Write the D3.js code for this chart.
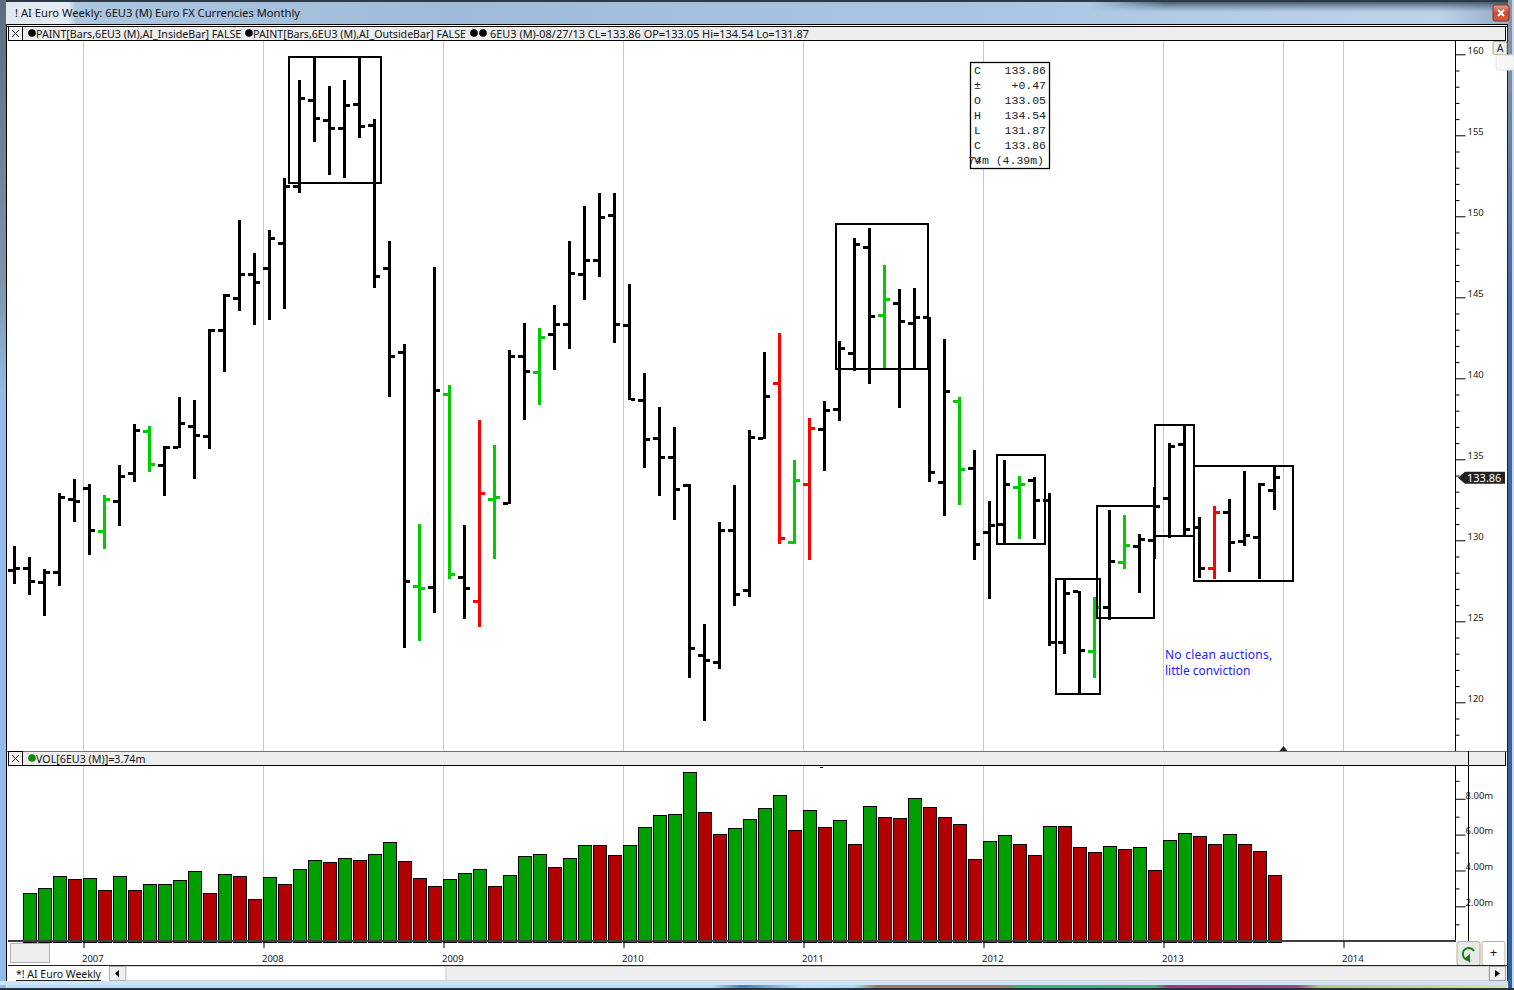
<!DOCTYPE html>
<html>
<head>
<meta charset="utf-8">
<title>AI Euro Weekly</title>
<script src="https://cdn.jsdelivr.net/npm/d3@7"></script>
<style>
html, body { margin: 0; padding: 0; background: #fff; overflow: hidden; }
svg { display: block; }
text { font-family: "Noto Sans", "Liberation Sans", sans-serif; fill: #1a1a1a; }
.mono { font-family: "Liberation Mono", monospace; font-size: 11.5px; }
</style>
</head>
<body>
<svg id="chart" width="1514" height="990"></svg>
<script>
// monthly bars, Aug 2006 to Aug 2013
var barHigh = [129.65,128.97,128.23,132.92,133.78,133.47,132.79,134.65,137.18,137.05,135.82,138.84,138.66,143.04,145.20,149.77,147.71,149.15,152.34,158.41,159.85,158.04,158.41,159.85,155.99,148.47,142.12,131.00,146.89,139.58,130.94,137.42,135.88,141.75,143.39,143.08,144.52,148.47,150.63,151.42,151.42,145.82,140.33,138.23,136.99,133.46,124.83,131.13,133.41,136.81,141.62,142.79,134.96,137.55,138.60,142.30,148.66,149.28,146.99,145.51,145.57,143.78,142.42,138.84,135.57,132.42,134.96,133.97,133.89,132.90,127.59,126.89,126.50,131.87,131.56,130.39,133.27,136.00,137.12,131.44,132.12,132.55,134.28,133.54,134.54];
var barLow = [127.30,126.62,125.33,127.18,131.13,129.09,129.46,130.88,133.60,134.21,132.73,135.70,133.78,135.63,140.39,144.15,143.29,143.60,144.28,151.45,154.60,152.57,152.38,154.85,145.59,138.86,123.37,123.78,125.53,127.61,125.14,124.65,128.84,132.24,137.44,138.35,140.51,141.81,144.83,146.25,142.18,138.66,134.46,132.73,131.25,121.50,118.84,122.05,125.94,126.50,136.23,129.77,129.77,128.78,134.28,137.36,140.45,139.65,140.51,138.16,140.51,133.60,131.50,132.18,128.78,126.37,129.79,130.08,130.08,123.47,122.98,120.51,121.50,125.08,128.23,126.75,128.84,130.14,130.26,127.67,127.61,128.04,129.65,127.61,131.87];
var barOpen = [128.15,128.27,127.41,128.02,132.53,133.21,130.55,132.41,134.13,136.73,134.63,135.74,137.04,136.42,142.96,144.94,146.42,146.79,148.33,151.87,157.12,155.94,155.43,156.91,155.62,146.79,141.62,127.16,127.10,139.01,127.71,126.23,132.53,132.28,141.37,140.37,142.71,143.33,146.42,147.28,150.08,143.27,138.64,136.29,135.12,133.41,122.90,122.47,130.62,126.91,136.29,139.65,129.85,133.47,136.87,138.08,141.54,148.08,143.89,144.63,143.39,143.78,133.58,138.58,134.44,130.49,130.99,133.27,133.70,132.47,123.70,126.85,123.15,125.86,128.64,129.63,130.00,132.59,135.92,130.76,128.27,131.73,129.94,130.20,133.05];
var barClose = [128.27,127.47,128.02,132.67,132.41,130.62,132.49,133.95,136.79,134.69,135.74,137.18,136.48,142.96,145.12,146.42,145.92,148.60,151.87,157.28,156.05,155.43,156.87,155.53,146.29,141.36,127.47,127.05,139.26,127.90,127.03,132.90,132.65,141.37,140.43,142.53,143.33,146.48,147.28,149.94,143.33,138.70,136.23,135.12,133.15,123.33,122.55,130.62,126.67,136.36,138.89,130.12,133.70,136.93,138.04,141.85,148.23,143.84,144.87,143.52,143.78,134.20,139.20,134.38,129.75,130.92,133.46,133.46,132.47,123.72,126.73,123.21,125.86,128.70,129.69,130.06,132.10,135.80,130.68,128.27,131.73,129.87,130.31,133.46,133.86];
// painted bars (inside / outside bar signal)
var greenBars = [6,9,27,29,32,35,52,58,63,67,72,74];
var redBars = [31,51,53,80];
// volume in millions, first month has no bar on screen
var volume = [null,2.73,3.01,3.68,3.51,3.56,2.89,3.68,2.89,3.23,3.23,3.45,3.95,2.73,3.79,3.68,2.39,3.62,3.23,4.07,4.57,4.46,4.68,4.57,4.90,5.57,4.51,3.56,3.12,3.51,3.84,4.07,3.12,3.73,4.79,4.90,4.18,4.68,5.40,5.40,4.85,5.40,6.41,7.08,7.13,9.48,7.24,6.02,6.35,6.85,7.47,8.19,6.24,7.36,6.41,6.80,5.46,7.58,6.97,6.91,8.03,7.52,6.97,6.58,4.62,5.63,5.96,5.46,4.85,6.46,6.46,5.29,5.01,5.35,5.18,5.29,4.01,5.68,6.07,5.91,5.46,6.02,5.46,5.07,3.73];
var volumeDown = [4,6,8,13,15,16,18,21,23,26,27,28,32,36,39,40,46,47,52,54,56,58,59,61,62,63,64,67,68,70,71,72,74,76,79,80,82,83,84];
// year labels and the month slot each one starts at
var years = [2007,2008,2009,2010,2011,2012,2013,2014];
var yearSlots = [4.6,16.6,28.6,40.6,52.6,64.6,76.6,88.6];
var lastBarSlot = 84.6;
var priceMajor = [120,125,130,135,140,145,150,155,160];
var volumeMajor = [2,4,6,8];
// rectangles drawn by hand on the chart: first slot, last slot, top price, bottom price
var boxSlots = [[18.28,24.45],[54.77,60.92],[65.5,68.72],[69.41,72.39],[72.15,75.99],[76.01,78.65],[78.63,85.23]];
var boxPrices = [[159.85,152.05],[149.54,140.58],[135.28,129.77],[127.63,120.51],[132.12,125.2],[137.14,130.28],[134.6,127.49]];
var noteLines = ["No clean auctions,", "little conviction"];
var dataLabels = ["C","\u00b1","O","H","L","C","V"];
var dataValues = ["133.86","+0.47","133.05","134.54","131.87","133.86","74m (4.39m)"];
var lastPrice = 133.86;

var svg = d3.select("#chart");
var defs = svg.append("defs");

function gradient(id, vertical, stops) {
    var g = defs.append("linearGradient").attr("id", id)
        .attr("x1", 0).attr("y1", 0)
        .attr("x2", vertical ? 0 : 1).attr("y2", vertical ? 1 : 0);
    stops.forEach(function (s) {
        g.append("stop").attr("offset", s[0]).attr("stop-color", s[1]).attr("stop-opacity", s.length > 2 ? s[2] : 1);
    });
}

function box(x, y, w, h, fill, stroke, sw, rx) {
    return svg.append("rect")
        .attr("x", x).attr("y", y).attr("width", w).attr("height", h)
        .attr("fill", fill)
        .attr("stroke", stroke || "none")
        .attr("stroke-width", sw || 0)
        .attr("rx", rx || 0);
}

function hline(x1, x2, y, color, sw) {
    return svg.append("line").attr("x1", x1).attr("x2", x2).attr("y1", y).attr("y2", y)
        .attr("stroke", color).attr("stroke-width", sw || 1).attr("shape-rendering", "crispEdges");
}

function vline(x, y1, y2, color, sw) {
    return svg.append("line").attr("x1", x).attr("x2", x).attr("y1", y1).attr("y2", y2)
        .attr("stroke", color).attr("stroke-width", sw || 1).attr("shape-rendering", "crispEdges");
}

function label(x, y, str, size, color, anchor) {
    return svg.append("text").attr("x", x).attr("y", y).text(str)
        .style("font-size", size + "px")
        .style("fill", color || "#1a1a1a")
        .attr("text-anchor", anchor || "start");
}

function closeBox(x, y) {
    box(x + 0.5, y + 0.5, 14, 14, "#f4f4f4", "#000", 1);
    svg.append("path").attr("d", "M" + (x + 4) + "," + (y + 4) + "L" + (x + 11) + "," + (y + 11) + "M" + (x + 11) + "," + (y + 4) + "L" + (x + 4) + "," + (y + 11))
        .attr("stroke", "#222").attr("fill", "none");
}

function dot(x, y, color) {
    svg.append("circle").attr("cx", x).attr("cy", y).attr("r", 3.8).attr("fill", color);
}

// window chrome
gradient("titleBase", false, [[0, "#dfe9f3"], [0.045, "#e3ecf5"], [0.05, "#adc6e0"], [0.3, "#9fbbd9"], [0.65, "#a9c5e2"], [0.95, "#bcd3ea"], [1, "#8fa9c4"]]);
gradient("titleDark", true, [[0, "#1f2c3a", 0.9], [0.75, "#4c6580", 0]]);
gradient("fadeRight", false, [[0, "#000"], [0.72, "#000"], [0.77, "#fff"], [1, "#fff"]]);
gradient("sideLeft", true, [[0, "#5d6d7e"], [0.28, "#7f93a8"], [0.4, "#8fbce8"], [1, "#8fbce8"]]);
gradient("sideRight", true, [[0, "#8b98a6"], [0.3, "#3e6aa5"], [1, "#2d5f9e"]]);
gradient("taskStrip", false, [[0, "#b8dcf8"], [0.47, "#b8dcf8"], [0.49, "#3b82b8"], [0.53, "#bcdcf4"], [0.565, "#a8dcec"], [0.58, "#9c7a58"], [0.66, "#9c7a58"], [0.675, "#40b070"], [0.765, "#48b080"], [0.775, "#a03878"], [0.86, "#a04880"], [0.875, "#b8c878"], [1, "#d8e4a0"]]);
gradient("redClose", true, [[0, "#e8a090"], [0.5, "#c84830"], [1, "#d86040"]]);

box(0, 0, 1514, 990, "#fff");
box(0, 0, 1514, 25, "url(#titleBase)");
defs.append("mask").attr("id", "darkMask").attr("maskUnits", "userSpaceOnUse")
    .attr("x", 0).attr("y", 0).attr("width", 1514).attr("height", 25)
    .append("rect").attr("width", 1514).attr("height", 25).attr("fill", "url(#fadeRight)");
box(0, 0, 1514, 16, "url(#titleDark)").attr("mask", "url(#darkMask)");
box(0, 0, 1514, 2, "#2c3a48");
box(0, 0, 6, 990, "url(#sideLeft)");
box(1508, 0, 6, 990, "url(#sideRight)");
box(1512, 0, 2, 990, "#c8d4e0");
vline(6.5, 25, 984, "#000", 1);
vline(1507.5, 25, 984, "#222", 1);
hline(6, 1508, 24.5, "#000");
label(15, 17, "! AI Euro Weekly: 6EU3 (M) Euro FX Currencies Monthly", 11.2, "#111");
box(1493, 5, 16, 16, "url(#redClose)", "#8a3020", 1, 2);
svg.append("path").attr("d", "M1498,10L1504,16M1504,10L1498,16").attr("stroke", "#fff").attr("stroke-width", 2);

// scales: one slot per month
var x = d3.scaleLinear().domain([0, 84]).range([14.5, 1274.5]);
var y = d3.scaleLinear().domain([160, 117]).range([54.3, 750.9]);
var vy = d3.scaleLinear().domain([0, 10]).range([942.2, 762.9]);

// price panel grid
svg.append("g").selectAll("line").data(yearSlots.slice().concat([lastBarSlot])).enter().append("line")
    .attr("x1", function (d) { return x(d); }).attr("x2", function (d) { return x(d); })
    .attr("y1", 41).attr("y2", 751)
    .attr("stroke", "#c8c8c8").attr("shape-rendering", "crispEdges");

// volume panel grid
svg.append("g").selectAll("line").data(yearSlots).enter().append("line")
    .attr("x1", function (d) { return x(d); }).attr("x2", function (d) { return x(d); })
    .attr("y1", 766).attr("y2", 941)
    .attr("stroke", "#c8c8c8").attr("shape-rendering", "crispEdges");

// price bars
function barColor(i) {
    if (greenBars.indexOf(i) >= 0) return "#00cc00";
    if (redBars.indexOf(i) >= 0) return "#ff0000";
    return "#000";
}

var bars = svg.append("g").selectAll("g").data(d3.range(barHigh.length)).enter().append("g")
    .attr("fill", barColor)
    .attr("shape-rendering", "crispEdges");

bars.append("rect")
    .attr("x", function (i) { return x(i) - 1.5; })
    .attr("width", 3)
    .attr("y", function (i) { return y(barHigh[i]); })
    .attr("height", function (i) { return y(barLow[i]) - y(barHigh[i]); });

bars.append("rect")
    .attr("x", function (i) { return x(i) - 6.5; })
    .attr("width", 5)
    .attr("y", function (i) { return y(barOpen[i]) - 1.5; })
    .attr("height", 3);

bars.append("rect")
    .attr("x", function (i) { return x(i) + 1.5; })
    .attr("width", 4)
    .attr("y", function (i) { return y(barClose[i]) - 1.5; })
    .attr("height", 3);

// hand drawn rectangles
svg.append("g").selectAll("rect").data(d3.range(boxSlots.length)).enter().append("rect")
    .attr("x", function (k) { return x(boxSlots[k][0]); })
    .attr("y", function (k) { return y(boxPrices[k][0]); })
    .attr("width", function (k) { return x(boxSlots[k][1]) - x(boxSlots[k][0]); })
    .attr("height", function (k) { return y(boxPrices[k][1]) - y(boxPrices[k][0]); })
    .attr("fill", "none")
    .attr("stroke", "#000")
    .attr("stroke-width", 2)
    .attr("shape-rendering", "crispEdges");

// note
noteLines.forEach(function (s, k) {
    label(1165, 659 + k * 16, s, 12, "#2222ff").style("letter-spacing", k == 0 ? "0.22px" : "0");
});

// data box
box(970.5, 62.5, 79, 106, "#fff", "#000", 1.3);
dataLabels.forEach(function (s, k) {
    svg.append("text").attr("class", "mono").attr("x", 974).attr("y", 73.5 + k * 15).text(s);
    svg.append("text").attr("class", "mono")
        .attr("x", k == 6 ? 1044 : 1046).attr("y", 73.5 + k * 15)
        .attr("text-anchor", "end").text(dataValues[k]);
});

// price axis
var priceMinor = d3.range(117, 161).filter(function (v) { return priceMajor.indexOf(v) < 0; });
svg.append("g")
    .attr("transform", "translate(1455.5,0)")
    .call(d3.axisRight(y).tickValues(priceMinor).tickSize(4).tickFormat(""))
    .call(function (g) { g.select(".domain").remove(); });
svg.append("g")
    .attr("class", "price-axis")
    .attr("transform", "translate(1455.5,0)")
    .call(d3.axisRight(y).tickValues(priceMajor).tickSize(10).tickPadding(2).tickFormat(d3.format("d")))
    .call(function (g) { g.select(".domain").remove(); })
    .call(function (g) {
        g.selectAll("text").attr("dy", "-0.1em").style("font-size", "9.5px")
            .style("font-family", "Noto Sans").style("fill", "#222");
    });
vline(1455.5, 41, 751, "#000", 1);

// last price flag
var flagY = y(lastPrice);
svg.append("path")
    .attr("d", "M1458," + flagY + "L1465," + (flagY - 6) + "L1505," + (flagY - 6) + "L1505," + (flagY + 6) + "L1465," + (flagY + 6) + "Z")
    .attr("fill", "#222");
label(1467, flagY + 4, "133.86", 11, "#fff");

// marker under the last bar
svg.append("path")
    .attr("d", "M" + x(lastBarSlot) + ",746L" + (x(lastBarSlot) + 4) + ",751L" + (x(lastBarSlot) - 4) + ",751Z")
    .attr("fill", "#222");

// header rows
box(8, 26.5, 1498, 14, "#eeeeee");
hline(7, 1507, 26.5, "#000");
hline(8, 1506, 40.5, "#000");
vline(1505.5, 26, 41, "#000");
closeBox(8, 26);
dot(32, 33, "#000");
label(36, 37.5, "PAINT[Bars,6EU3 (M),AI_InsideBar] FALSE", 10.65, "#111");
dot(249, 33, "#000");
label(253, 37.5, "PAINT[Bars,6EU3 (M),AI_OutsideBar] FALSE", 10.6, "#111");
dot(474, 33, "#000");
dot(483, 33, "#000");
label(490, 37.5, "6EU3 (M)-08/27/13 CL=133.86 OP=133.05 Hi=134.54 Lo=131.87", 10.93, "#111");

box(1493, 41.5, 14, 13, "#eee", "#b0a888", 1, 2);
label(1500, 52, "A", 10.5, "#222", "middle");
box(1496, 55, 18, 15, "#f6f6f6", "#e4e4e4", 1, 2);

box(8, 751.5, 1498, 14, "#eeeeee");
hline(7, 1507, 751.5, "#707070");
hline(8, 1506, 765.5, "#000");
vline(1505.5, 752, 766, "#000");
closeBox(8, 751);
dot(32, 758, "#0a8a0a");
label(36, 762.5, "VOL[6EU3 (M)]=3.74m", 10.7, "#111");
hline(820, 823, 767, "#000");

// volume bars
var volIdx = d3.range(volume.length).filter(function (i) { return volume[i] != null; });
svg.append("g").selectAll("rect").data(volIdx).enter().append("rect")
    .attr("x", function (i) { return x(i) - 6; })
    .attr("width", 13)
    .attr("y", function (i) { return vy(volume[i]); })
    .attr("height", function (i) { return vy(0) - vy(volume[i]); })
    .attr("fill", function (i) { return volumeDown.indexOf(i) >= 0 ? "#b30000" : "#009f00"; })
    .attr("stroke", "#000")
    .attr("shape-rendering", "crispEdges");

// volume axis
var volumeMinor = [1,3,5,7,9];
svg.append("g")
    .attr("transform", "translate(1455.5,0)")
    .call(d3.axisRight(vy).tickValues(volumeMinor).tickSize(4).tickFormat(""))
    .call(function (g) { g.select(".domain").remove(); });
svg.append("g")
    .attr("transform", "translate(1455.5,0)")
    .call(d3.axisRight(vy).tickValues(volumeMajor).tickSize(10).tickPadding(0).tickFormat(function (d) { return d3.format(".2f")(d) + "m"; }))
    .call(function (g) { g.select(".domain").remove(); })
    .call(function (g) {
        g.selectAll("text").attr("dy", "-0.08em").style("font-size", "9.5px")
            .style("font-family", "Noto Sans").style("fill", "#222");
    });
vline(1455.5, 766, 941, "#000", 1);
vline(1468.5, 751, 941, "#000", 1);

// time axis
hline(8, 1456, 941, "#404040", 2);
var timeAxis = d3.axisBottom(x)
    .tickValues(yearSlots)
    .tickSize(7)
    .tickPadding(3)
    .tickFormat(function (d, k) { return years[k]; });
svg.append("g")
    .attr("transform", "translate(0,941)")
    .call(timeAxis)
    .call(function (g) { g.select(".domain").remove(); })
    .call(function (g) {
        g.selectAll("text").attr("text-anchor", "start").attr("dx", -2).attr("y", 14)
            .style("font-size", "9.5px").style("font-family", "Noto Sans").style("fill", "#222");
    });
box(10.5, 943.5, 39, 19, "#eeeeee", "#b4b4b4", 1);
box(1457, 941.5, 23, 24, "#e8e8e8", "#b8b090", 1, 2);
svg.append("path").attr("d", "M1474,951A6,6 0 1 0 1469,960").attr("fill", "none").attr("stroke", "#108010").attr("stroke-width", 2);
svg.append("path").attr("d", "M1465,958L1470,954L1470,963Z").attr("fill", "#108010");
box(1482, 941.5, 23, 24, "#fff", "#b8b090", 1, 2);
label(1493.5, 957, "+", 13, "#111", "middle");

// tab row
hline(8, 1507, 965.5, "#222");
box(7, 966, 500, 15, "#fff");
label(16, 978, "*! AI Euro Weekly", 10.5, "#111");
hline(16, 101, 980.5, "#222");
box(109.5, 966.5, 16, 14, "#f0f0f0", "#b0b0b0", 1);
svg.append("path").attr("d", "M119,970L115,973.5L119,977Z").attr("fill", "#000");
box(126, 966.5, 320, 14, "#fff", "#d0d0d0", 1);
box(446, 966.5, 1043, 14, "#eeeeee", "#cfcfcf", 1);
box(1489.5, 966.5, 16, 14, "#f0f0f0", "#a0a0a0", 1);
svg.append("path").attr("d", "M1495,970L1500,973.5L1495,977Z").attr("fill", "#000");

// bottom edge
box(0, 981, 1508, 4, "#cfe4f8");
box(7, 985, 1500, 3, "url(#taskStrip)");
box(0, 988, 1514, 2, "#27323e");
</script>
</body>
</html>
